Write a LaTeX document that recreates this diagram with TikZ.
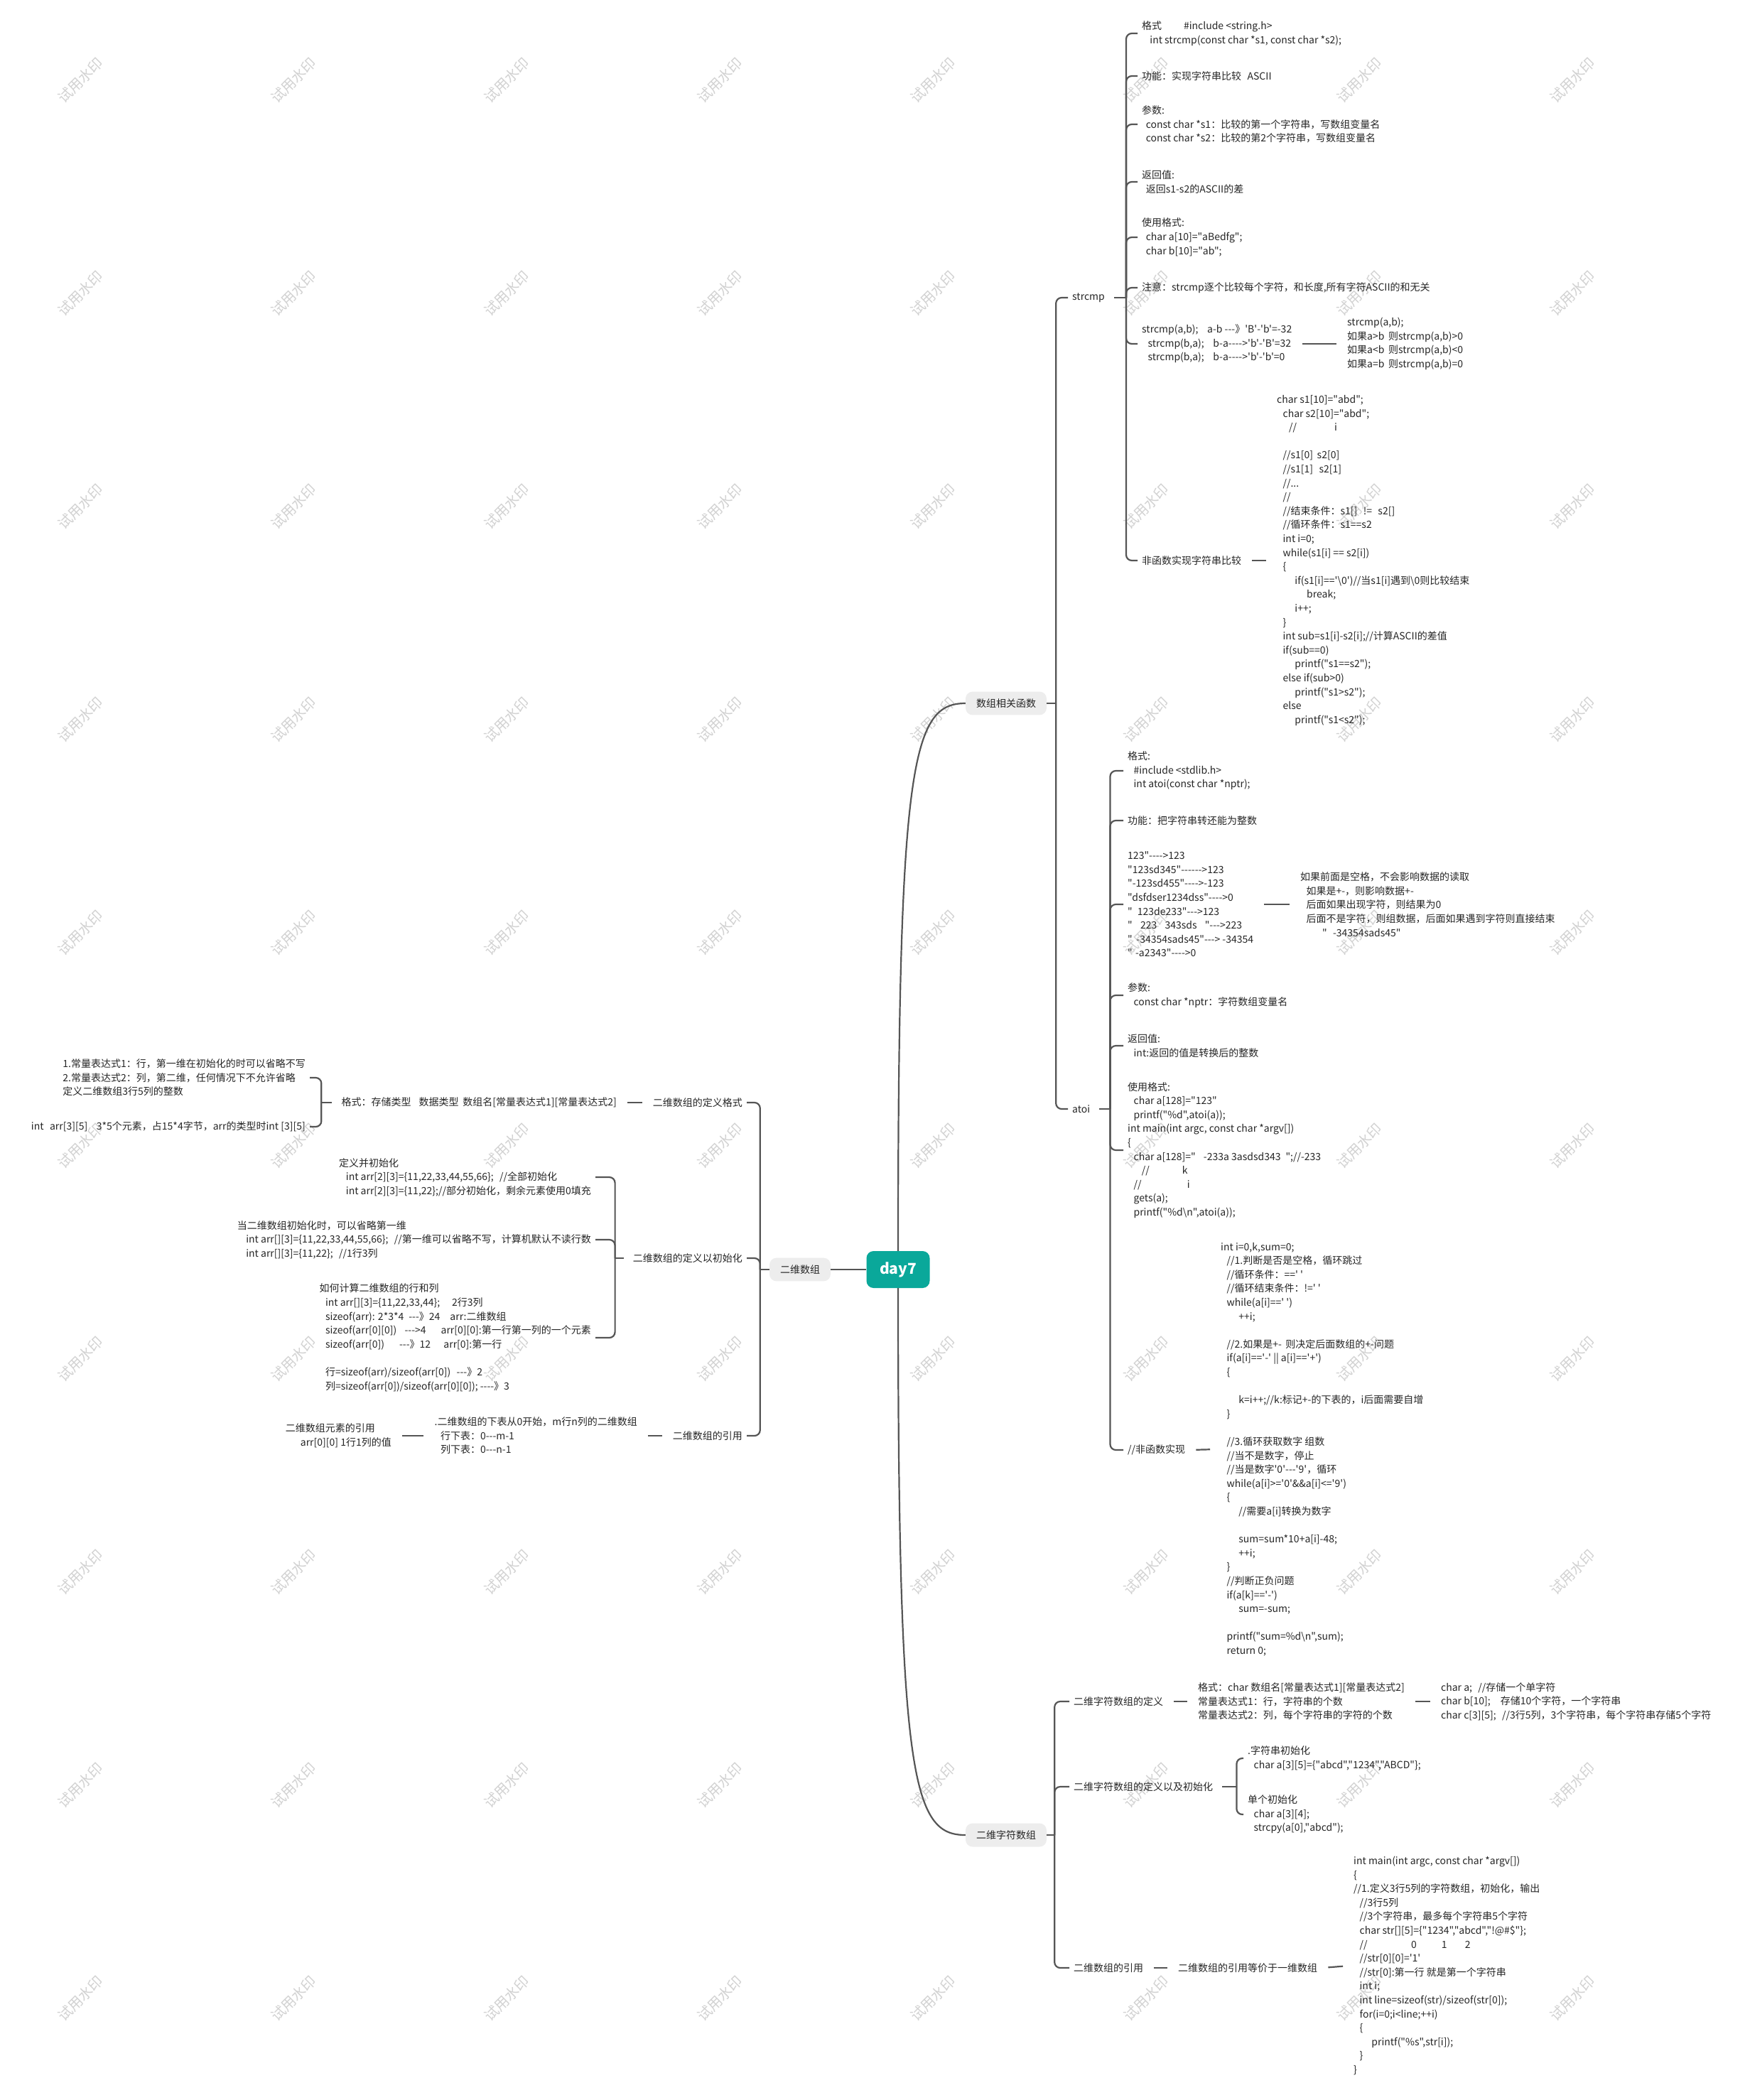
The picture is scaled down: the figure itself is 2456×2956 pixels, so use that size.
\documentclass[tikz,border=0pt]{standalone}
\usepackage{fontspec}
\newfontfamily\cnfont{Noto Sans CJK SC}
\usetikzlibrary{calc}
\definecolor{linkgray}{HTML}{555555}
\definecolor{rootteal}{HTML}{0AA89A}
\definecolor{topicgray}{HTML}{EDEDED}
\definecolor{markgray}{HTML}{D2D2D2}
\newcommand{\ind}[1]{\hspace*{#1em}}

\begin{document}
\begin{tikzpicture}[
    x=1pt, y=-1pt,
    every node/.style={font=\cnfont\fontsize{14}{19.6}\selectfont, inner sep=6pt, align=left, text=black!85},
    root/.style={fill=rootteal, text=white, rounded corners=10pt, minimum width=89pt, minimum height=52pt,
        font=\cnfont\bfseries\fontsize{21}{24}\selectfont, align=center},
    topic/.style={fill=topicgray, rounded corners=10pt, inner xsep=15pt, inner ysep=10pt},
    rtext/.style={anchor=west},
    ltext/.style={anchor=east},
    link/.style={draw=linkgray, line width=2.2pt, rounded corners=8pt},
    stub/.style={link, shorten <=9pt, shorten >=9pt},
    wmark/.style={text=markgray, rotate=45, font=\cnfont\fontsize{20}{20}\selectfont},
]
% page
\fill[white] (0,0) rectangle (2456,2956);
\useasboundingbox (0,0) rectangle (2456,2956);
% watermark grid
\foreach \i in {0,...,7}
    \foreach \j in {0,...,9}
        \node[wmark] (wm-\i-\j) at ({113+300*\i},{113+300*\j}) {试用水印};

% centre and main topics
\node[root] (root) at (1264,1787) {day7};
\node[topic] (fun) at (1416,990) {数组相关函数};
\node[topic] (chr) at (1416,2583) {二维字符数组};
\node[topic] (arr) at (1126,1787) {二维数组};

% ---- strcmp / atoi
\node[rtext] (scmp) at (1503,419) {strcmp};
\node[rtext] (atoi) at (1503,1561) {atoi};

\node[rtext] (s1) at (1601,47) {格式\ind{2.2}\#include <string.h>\\ \ind{0.8}int strcmp(const char *s1, const char *s2);};
\node[rtext] (s2) at (1601,107) {功能：实现字符串比较\ind{0.6}ASCII};
\node[rtext] (s3) at (1601,175) {参数:\\ \ind{0.4}const char *s1：比较的第一个字符串，写数组变量名\\ \ind{0.4}const char *s2：比较的第2个字符串，写数组变量名};
\node[rtext] (s4) at (1601,256) {返回值:\\ \ind{0.4}返回s1-s2的ASCII的差};
\node[rtext] (s5) at (1601,334) {使用格式:\\ \ind{0.4}char a[10]="aBedfg";\\ \ind{0.4}char b[10]="ab";};
\node[rtext] (s6) at (1601,405) {注意：strcmp逐个比较每个字符，和长度,所有字符ASCII的和无关};
\node[rtext] (s7) at (1601,484) {strcmp(a,b);\ind{0.9}a-b ---》'B'-'b'=-32\\ \ind{0.6}strcmp(b,a);\ind{0.9}b-a---->'b'-'B'=32\\ \ind{0.6}strcmp(b,a);\ind{0.9}b-a---->'b'-'b'=0};
\node[rtext] (s7r) at (1890,484) {strcmp(a,b);\\ 如果a>b\ind{0.4}则strcmp(a,b)>0\\ 如果a<b\ind{0.4}则strcmp(a,b)<0\\ 如果a=b\ind{0.4}则strcmp(a,b)=0};
\node[rtext] (s8) at (1601,789) {非函数实现字符串比较};
\node[rtext] (s8c) at (1791,789) {char s1[10]="abd";\\
\ind{0.6}char s2[10]="abd";\\
\ind{1.2}//\ind{3.8}i\\
\mbox{}\\
\ind{0.6}//s1[0]\ind{0.4}s2[0]\\
\ind{0.6}//s1[1]\ind{0.6}s2[1]\\
\ind{0.6}//...\\
\ind{0.6}//\\
\ind{0.6}//结束条件：s1[]\ind{0.6}!=\ind{0.6}s2[]\\
\ind{0.6}//循环条件：s1==s2\\
\ind{0.6}int i=0;\\
\ind{0.6}while(s1[i] == s2[i])\\
\ind{0.6}\{\\
\ind{1.8}if(s1[i]=='\textbackslash 0')//当s1[i]遇到\textbackslash 0则比较结束\\
\ind{3}break;\\
\ind{1.8}i++;\\
\ind{0.6}\}\\
\ind{0.6}int sub=s1[i]-s2[i];//计算ASCII的差值\\
\ind{0.6}if(sub==0)\\
\ind{1.8}printf("s1==s2");\\
\ind{0.6}else if(sub>0)\\
\ind{1.8}printf("s1>s2");\\
\ind{0.6}else\\
\ind{1.8}printf("s1<s2");};

\node[rtext] (a1) at (1581,1085) {格式:\\ \ind{0.6}\#include <stdlib.h>\\ \ind{0.6}int atoi(const char *nptr);};
\node[rtext] (a2) at (1581,1155) {功能：把字符串转还能为整数};
\node[rtext] (a3) at (1581,1273) {123"---->123\\
"123sd345"------>123\\
"-123sd455"---->-123\\
"dsfdser1234dss"---->0\\
"\ind{0.5}123de233"--->123\\
"\ind{0.8}223\ind{0.8}343sds\ind{0.8}"--->223\\
"\ind{0.4}-34354sads45"---> -34354\\
"\ind{0.3}-a2343"---->0};
\node[rtext] (a3r) at (1824,1273) {如果前面是空格，不会影响数据的读取\\
\ind{0.6}如果是+-，则影响数据+-\\
\ind{0.6}后面如果出现字符，则结果为0\\
\ind{0.6}后面不是字符，则组数据，后面如果遇到字符则直接结束\\
\ind{2.2}"\ind{0.6}-34354sads45"};
\node[rtext] (a4) at (1581,1401) {参数:\\ \ind{0.6}const char *nptr：字符数组变量名};
\node[rtext] (a5) at (1581,1472) {返回值:\\ \ind{0.6}int:返回的值是转换后的整数};
\node[rtext] (a6) at (1581,1619) {使用格式:\\
\ind{0.6}char a[128]="123"\\
\ind{0.6}printf("\%d",atoi(a));\\
int main(int argc, const char *argv[])\\
\{\\
\ind{0.6}char a[128]="\ind{0.8}-233a 3asdsd343\ind{0.5}";//-233\\
\ind{1.4}//\ind{3.3}k\\
\ind{0.6}//\ind{4.6}i\\
\ind{0.6}gets(a);\\
\ind{0.6}printf("\%d\textbackslash n",atoi(a));};
\node[rtext] (a7) at (1581,2041) {//非函数实现};
\node[rtext] (a7c) at (1712,2040) {int i=0,k,sum=0;\\
\ind{0.6}//1.判断是否是空格，循环跳过\\
\ind{0.6}//循环条件：==' '\\
\ind{0.6}//循环结束条件：!=' '\\
\ind{0.6}while(a[i]==' ')\\
\ind{1.8}++i;\\
\mbox{}\\
\ind{0.6}//2.如果是+-\ind{0.4}则决定后面数组的+-问题\\
\ind{0.6}if(a[i]=='-' || a[i]=='+')\\
\ind{0.6}\{\\
\mbox{}\\
\ind{1.8}k=i++;//k:标记+-的下表的，i后面需要自增\\
\ind{0.6}\}\\
\mbox{}\\
\ind{0.6}//3.循环获取数字 组数\\
\ind{0.6}//当不是数字，停止\\
\ind{0.6}//当是数字'0'---'9'，循环\\
\ind{0.6}while(a[i]>='0'\&\&a[i]<='9')\\
\ind{0.6}\{\\
\ind{1.8}//需要a[i]转换为数字\\
\mbox{}\\
\ind{1.8}sum=sum*10+a[i]-48;\\
\ind{1.8}++i;\\
\ind{0.6}\}\\
\ind{0.6}//判断正负问题\\
\ind{0.6}if(a[k]=='-')\\
\ind{1.8}sum=-sum;\\
\mbox{}\\
\ind{0.6}printf("sum=\%d\textbackslash n",sum);\\
\ind{0.6}return 0;};

% ---- 二维字符数组
\node[rtext] (c1) at (1505,2395) {二维字符数组的定义};
\node[rtext] (c1a) at (1680,2395) {格式：char 数组名[常量表达式1][常量表达式2]\\ 常量表达式1：行，字符串的个数\\ 常量表达式2：列，每个字符串的字符的个数};
\node[rtext] (c1b) at (2022,2395) {char a;\ind{0.6}//存储一个单字符\\ char b[10];\ind{1}存储10个字符，一个字符串\\ char c[3][5];\ind{0.6}//3行5列，3个字符串，每个字符串存储5个字符};
\node[rtext] (c2) at (1505,2515) {二维字符数组的定义以及初始化};
\node[rtext] (c2a) at (1750,2475) {.字符串初始化\\ \ind{0.6}char a[3][5]=\{"abcd","1234","ABCD"\};};
\node[rtext] (c2b) at (1750,2554) {单个初始化\\ \ind{0.6}char a[3][4];\\ \ind{0.6}strcpy(a[0],"abcd");};
\node[rtext] (c3) at (1505,2770) {二维数组的引用};
\node[rtext] (c3a) at (1652,2770) {二维数组的引用等价于一维数组};
\node[rtext] (c3b) at (1899,2767) {int main(int argc, const char *argv[])\\
\{\\
//1.定义3行5列的字符数组，初始化，输出\\
\ind{0.6}//3行5列\\
\ind{0.6}//3个字符串，最多每个字符串5个字符\\
\ind{0.6}char str[][5]=\{"1234","abcd","!@\#\$"\};\\
\ind{0.6}//\ind{4.4}0\ind{2.5}1\ind{1.8}2\\
\ind{0.6}//str[0][0]='1'\\
\ind{0.6}//str[0]:第一行 就是第一个字符串\\
\ind{0.6}int i;\\
\ind{0.6}int line=sizeof(str)/sizeof(str[0]);\\
\ind{0.6}for(i=0;i<line;++i)\\
\ind{0.6}\{\\
\ind{1.8}printf("\%s",str[i]);\\
\ind{0.6}\}\\
\}};

% ---- 二维数组 (left side)
\node[ltext] (L1) at (1051,1552) {二维数组的定义格式};
\node[ltext] (L1a) at (874,1552) {格式：存储类型\ind{0.8}数据类型\ind{0.4}数组名[常量表达式1][常量表达式2]};
\node[ltext] (L1b) at (436,1517) {1.常量表达式1：行，第一维在初始化的时可以省略不写\\ 2.常量表达式2：列，第二维，任何情况下不允许省略\\ 定义二维数组3行5列的整数};
\node[ltext] (L1c) at (436,1586) {int\ind{0.6}arr[3][5]\ind{0.9}3*5个元素，占15*4字节，arr的类型时int [3][5]};
\node[ltext] (L2) at (1051,1771) {二维数组的定义以初始化};
\node[ltext] (L2a) at (838,1657) {定义并初始化\\
\ind{0.7}int arr[2][3]=\{11,22,33,44,55,66\};\ind{0.6}//全部初始化\\
\ind{0.7}int arr[2][3]=\{11,22\};//部分初始化，剩余元素使用0填充};
\node[ltext] (L2b) at (838,1745) {当二维数组初始化时，可以省略第一维\\
\ind{0.9}int arr[][3]=\{11,22,33,44,55,66\};\ind{0.6}//第一维可以省略不写，计算机默认不读行数\\
\ind{0.9}int arr[][3]=\{11,22\};\ind{0.6}//1行3列};
\node[ltext] (L2c) at (838,1883) {如何计算二维数组的行和列\\
\ind{0.6}int arr[][3]=\{11,22,33,44\};\ind{1.2}2行3列\\
\ind{0.6}sizeof(arr): 2*3*4\ind{0.5}---》24\ind{1}arr:二维数组\\
\ind{0.6}sizeof(arr[0][0])\ind{0.8}--->4\ind{1.5}arr[0][0]:第一行第一列的一个元素\\
\ind{0.6}sizeof(arr[0])\ind{1.5}---》12\ind{1.3}arr[0]:第一行\\
\mbox{}\\
\ind{0.6}行=sizeof(arr)/sizeof(arr[0])\ind{0.6}---》2\\
\ind{0.6}列=sizeof(arr[0])/sizeof(arr[0][0]); ----》3};
\node[ltext] (L3) at (1051,2021) {二维数组的引用};
\node[ltext] (L3a) at (903,2021) {.二维数组的下表从0开始，m行n列的二维数组\\ \ind{0.6}行下表：0---m-1\\ \ind{0.6}列下表：0---n-1};
\node[ltext] (L3b) at (557,2021) {二维数组元素的引用\\ \ind{1.5}arr[0][0] 1行1列的值};

% ---- connectors
\draw[link] (arr.east) -- (root.west);
\draw[link] (root.north) .. controls ($(root.north)+(0,-690)$) and ($(fun.west)+(-75,0)$) .. (fun.west);
\draw[link] (root.south) .. controls ($(root.south)+(0,690)$) and ($(chr.west)+(-75,0)$) .. (chr.west);

\draw[link] (fun.east) -- ++(13,0) coordinate (fbar);
\foreach \c in {scmp,atoi}
    \draw[link] (fbar) |- (\c.west);
\draw[link] ([xshift=7pt]scmp.east) -- ++(17,0) coordinate (sbar);
\foreach \c in {s1,s2,s3,s4,s5,s6,s7,s8}
    \draw[link] (sbar) |- (\c.west);
\draw[stub] (s7.east) -- (s7r.west);
\draw[stub] (s8.east) -- (s8c.west);
\draw[link] ([xshift=7pt]atoi.east) -- ++(15,0) coordinate (abar);
\foreach \c in {a1,a2,a3,a4,a5,a6,a7}
    \draw[link] (abar) |- (\c.west);
\draw[stub] (a3.east) -- (a3r.west);
\draw[stub] (a7.east) -- (a7c.west);

\draw[link] (chr.east) -- ++(11,0) coordinate (cbar);
\foreach \c in {c1,c2,c3}
    \draw[link] (cbar) |- (\c.west);
\draw[stub] (c1.east) -- (c1a.west);
\draw[stub] (c1a.east) -- (c1b.west);
\draw[link] ([xshift=7pt]c2.east) -- ++(20,0) coordinate (c2bar);
\foreach \c in {c2a,c2b}
    \draw[link] (c2bar) |- (\c.west);
\draw[stub] (c3.east) -- (c3a.west);
\draw[stub] (c3a.east) -- (c3b.west);

\draw[link] (arr.west) -- ++(-13,0) coordinate (lbar);
\foreach \c in {L1,L2,L3}
    \draw[link] (lbar) |- (\c.east);
\draw[stub] (L1.west) -- (L1a.east);
\draw[link] ([xshift=-7pt]L1a.west) -- ++(-15,0) coordinate (l1bar);
\foreach \c in {L1b,L1c}
    \draw[link] (l1bar) |- (\c.east);
\draw[link] ([xshift=-7pt]L2.west) -- ++(-12,0) coordinate (l2bar);
\foreach \c in {L2a,L2b,L2c}
    \draw[link] (l2bar) |- (\c.east);
\draw[stub] (L3.west) -- (L3a.east);
\draw[stub] (L3a.west) -- (L3b.east);
\end{tikzpicture}
\end{document}
